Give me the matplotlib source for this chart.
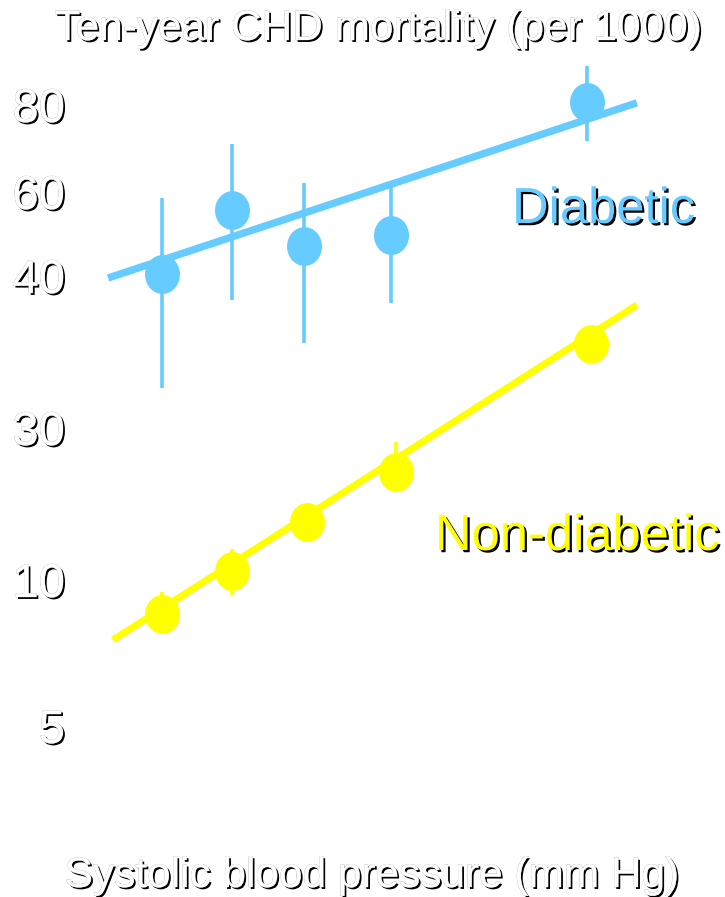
import numpy as np
import matplotlib
matplotlib.use('Agg')
import matplotlib.pyplot as plt
import matplotlib.patheffects as pe
from matplotlib.path import Path
from matplotlib.transforms import Affine2D
from matplotlib.ticker import NullLocator

plt.rcParams['font.family'] = ['Liberation Sans', 'DejaVu Sans']

# Systolic blood pressure group (mm Hg) vs ten-year CHD deaths per 1000
sbp_diab = [110, 130, 150.5, 175.5, 231.5]
chd_diab = [40.5, 55.7, 47.1, 49.8, 80.7]
diab_low = [32.6, 38.4, 35.6, 38.2, 71.7]
diab_high = [58.6, 71.0, 62.1, 62.1, 89.0]

sbp_non = [110, 130, 151.5, 177, 232.5]
chd_non = [8.84, 11.2, 17.6, 24.2, 35.5]
non_low = [8.3, 9.49, 15.8, 22.5, 34.8]
non_high = [9.59, 14.1, 19.5, 28.2, 36.3]

# fitted trend lines, end points
fit_sbp_diab = [94.6, 245.7]
fit_chd_diab = [39.87, 80.5]
fit_sbp_non = [96.0, 245.7]
fit_chd_non = [7.95, 38.1]

yticks = [5, 10, 30, 40, 60, 80]

BLUE = '#66CCFF'
YELLOW = '#FFFF00'

W, H = 725, 897

# uneven vertical axis: piecewise linear between the labelled values
scale_vals = [-5, 0, 5, 10, 30, 40, 60, 80, 120]
scale_depth = -np.array([1018, 872, 726, 580, 428, 276, 192, 105, -69], dtype=float)


def forward(v):
    return np.interp(v, scale_vals, scale_depth)


def inverse(y):
    return np.interp(y, scale_depth, scale_vals)


fig = plt.figure(figsize=(W / 100, H / 100), dpi=100)
fig.patch.set_facecolor('white')
left_px = 72
ax = fig.add_axes([left_px / W, 0, 1 - left_px / W, 1])
ax.set_yscale('function', functions=(forward, inverse))

px_per_mmHg = 3.5
ax.set_xlim(110 + (left_px - 162) / px_per_mmHg, 110 + (W - 162) / px_per_mmHg)
ax.set_ylim(inverse(-H), inverse(0))

for s in ax.spines.values():
    s.set_visible(False)
ax.set_xticks([])
ax.set_yticks(yticks, labels=[str(t) for t in yticks])
ax.yaxis.set_minor_locator(NullLocator())
ax.tick_params(axis='y', length=0, pad=5, labelsize=34, labelcolor='white')

shadow = [pe.SimplePatchShadow(offset=(1.4, -1.4), shadow_rgbFace='black', alpha=1.0),
          pe.Stroke(linewidth=0.35, foreground='#a0a0a0'), pe.Normal()]
for lab in ax.get_yticklabels():
    lab.set_path_effects(shadow)

ellipse = Path.unit_circle().transformed(Affine2D().scale(0.9, 1.0))

# diabetic
ax.errorbar(sbp_diab, chd_diab,
            yerr=[np.subtract(chd_diab, diab_low), np.subtract(diab_high, chd_diab)],
            fmt='none', ecolor=BLUE, elinewidth=2.6, capsize=0, zorder=1)
ax.plot(fit_sbp_diab, fit_chd_diab, color=BLUE, lw=5.3, solid_capstyle='butt', zorder=2)
ax.plot(sbp_diab, chd_diab, ls='none', marker=ellipse, ms=28, mew=0, color=BLUE, zorder=3)

# non-diabetic
ax.errorbar(sbp_non, chd_non,
            yerr=[np.subtract(chd_non, non_low), np.subtract(non_high, chd_non)],
            fmt='none', ecolor=YELLOW, elinewidth=2.6, capsize=0, zorder=1)
ax.plot(fit_sbp_non, fit_chd_non, color=YELLOW, lw=5.0, solid_capstyle='butt', zorder=2)
ax.plot(sbp_non, chd_non, ls='none', marker=ellipse, ms=28, mew=0, color=YELLOW, zorder=3)

# titles and group labels
fig.text(378 / W, 1 - 40 / H, 'Ten-year CHD mortality (per 1000)', ha='center', va='baseline',
         fontsize=30.5, color='white', path_effects=shadow)
fig.text(372 / W, 1 - 887 / H, 'Systolic blood pressure (mm Hg)', ha='center', va='baseline',
         fontsize=30.5, color='white', path_effects=shadow)

label_shadow = [pe.SimplePatchShadow(offset=(1.6, -1.6), shadow_rgbFace='black', alpha=1.0), pe.Normal()]
fig.text(512 / W, 1 - 223 / H, 'Diabetic', ha='left', va='baseline',
         fontsize=36.5, color=BLUE, path_effects=label_shadow)
fig.text(435 / W, 1 - 550 / H, 'Non-diabetic', ha='left', va='baseline',
         fontsize=36.5, color=YELLOW, path_effects=label_shadow)

fig.savefig('out.png', dpi=100, facecolor='white')
